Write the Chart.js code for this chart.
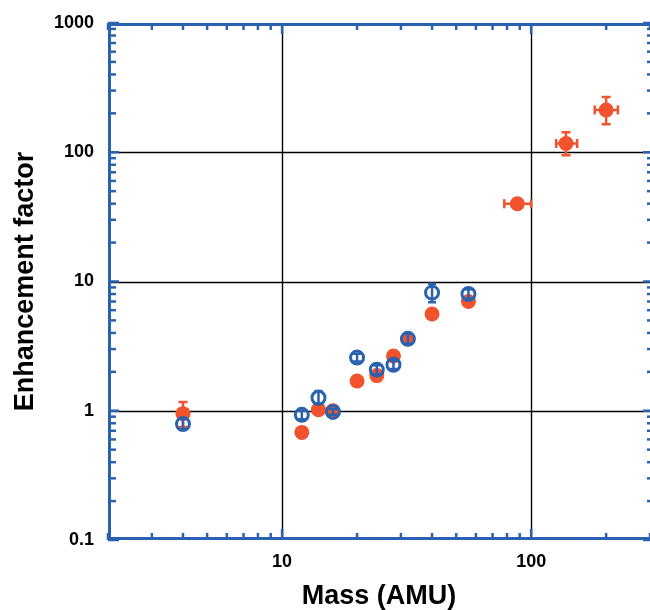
<!DOCTYPE html>
<html>
<head>
<meta charset="utf-8">
<script src="https://cdn.jsdelivr.net/npm/chart.js@4"></script>
<style>
  body { margin: 0; background: #fff; }
  canvas { display: block; }
</style>
</head>
<body>
<canvas id="myChart" width="650" height="610"></canvas>
<script>
// orange filled points
const orangeMass = [4, 12, 14, 16, 20, 24, 28, 32, 40, 56, 88, 138, 200]
const orangeMassLow = [4, 12, 14, 16, 20, 24, 28, 32, 40, 56, 78, 126, 180]
const orangeMassHigh = [4, 12, 14, 16, 20, 24, 28, 32, 40, 56, 100, 153, 223]
const orangeFactor = [0.95, 0.68, 1.02, 1.0, 1.7, 1.87, 2.65, 3.6, 5.6, 7.0, 40, 117, 212]
const orangeFactorLow = [0.75, 0.65, 0.97, 0.96, 1.63, 1.8, 2.55, 3.45, 5.4, 6.7, 38.5, 95, 165]
const orangeFactorHigh = [1.17, 0.71, 1.07, 1.04, 1.77, 1.95, 2.75, 3.75, 5.8, 7.3, 41.5, 143, 267]

// blue open points
const blueMass = [4, 12, 14, 16, 20, 24, 28, 32, 40, 56]
const blueFactor = [0.79, 0.93, 1.26, 0.98, 2.58, 2.08, 2.27, 3.6, 8.2, 8.0]
const blueFactorLow = [0.72, 0.86, 1.13, 0.93, 2.4, 1.92, 2.1, 3.3, 6.9, 7.4]
const blueFactorHigh = [0.87, 1.0, 1.42, 1.03, 2.76, 2.25, 2.45, 3.95, 9.6, 8.7]

const xTickLabels = [10, 100]
const yTickLabels = [0.1, 1, 10, 100, 1000]
const xMinor = [2, 3, 4, 5, 6, 7, 8, 9, 20, 30, 40, 50, 60, 70, 80, 90, 200, 300]
const yMinor = [0.2, 0.3, 0.4, 0.5, 0.6, 0.7, 0.8, 0.9, 2, 3, 4, 5, 6, 7, 8, 9,
  20, 30, 40, 50, 60, 70, 80, 90, 200, 300, 400, 500, 600, 700, 800, 900]

const orange = '#f0532d'
const blue = '#2a62b0'
const fontName = "'Liberation Sans', Arial, sans-serif"

const errBars = [
  { x: blueMass, y: blueFactor, yLo: blueFactorLow, yHi: blueFactorHigh, color: blue, w: 2.5, cap: 4 },
  { x: orangeMass, y: orangeFactor, yLo: orangeFactorLow, yHi: orangeFactorHigh,
    xLo: orangeMassLow, xHi: orangeMassHigh, color: orange, w: 2.5, cap: 4.5 }
]

const framePlugin = {
  id: 'frame',
  beforeDatasetsDraw(chart) {
    const ctx = chart.ctx
    const a = chart.chartArea
    const sx = chart.scales.x
    const sy = chart.scales.y
    ctx.save()
    ctx.strokeStyle = '#000'
    ctx.lineWidth = 1.4
    xTickLabels.forEach(v => {
      const px = Math.round(sx.getPixelForValue(v)) + 0.5
      ctx.beginPath(); ctx.moveTo(px, a.top); ctx.lineTo(px, a.bottom); ctx.stroke()
    })
    ;[1, 10, 100].forEach(v => {
      const py = Math.round(sy.getPixelForValue(v)) + 0.5
      ctx.beginPath(); ctx.moveTo(a.left, py); ctx.lineTo(a.right, py); ctx.stroke()
    })
    ctx.restore()
  },
  afterDatasetDraw(chart, args) {
    const e = errBars[args.index]
    const ctx = chart.ctx
    const sx = chart.scales.x
    const sy = chart.scales.y
    ctx.save()
    ctx.strokeStyle = e.color
    ctx.lineWidth = e.w
    e.x.forEach((xv, i) => {
      const px = sx.getPixelForValue(xv)
      const py = sy.getPixelForValue(e.y[i])
      const lo = sy.getPixelForValue(e.yLo[i])
      const hi = sy.getPixelForValue(e.yHi[i])
      ctx.beginPath()
      ctx.moveTo(px, lo); ctx.lineTo(px, hi)
      ctx.moveTo(px - e.cap, lo); ctx.lineTo(px + e.cap, lo)
      ctx.moveTo(px - e.cap, hi); ctx.lineTo(px + e.cap, hi)
      if (e.xLo && e.xLo[i] != xv) {
        const l = sx.getPixelForValue(e.xLo[i])
        const r = sx.getPixelForValue(e.xHi[i])
        ctx.moveTo(l, py); ctx.lineTo(r, py)
        ctx.moveTo(l, py - e.cap); ctx.lineTo(l, py + e.cap)
        ctx.moveTo(r, py - e.cap); ctx.lineTo(r, py + e.cap)
      }
      ctx.stroke()
    })
    ctx.restore()
  },
  afterDraw(chart) {
    const ctx = chart.ctx
    const a = chart.chartArea
    const sx = chart.scales.x
    const sy = chart.scales.y
    ctx.save()
    ctx.strokeStyle = blue
    ctx.lineWidth = 3
    ctx.beginPath()
    ctx.moveTo(a.right, a.top + 1.5); ctx.lineTo(a.left + 1.5, a.top + 1.5)
    ctx.lineTo(a.left + 1.5, a.bottom - 1.5); ctx.lineTo(a.right, a.bottom - 1.5)
    ctx.stroke()
    ctx.lineWidth = 2.5
    const tick = (x1, y1, x2, y2) => { ctx.beginPath(); ctx.moveTo(x1, y1); ctx.lineTo(x2, y2); ctx.stroke() }
    xMinor.forEach(v => {
      const px = sx.getPixelForValue(v)
      tick(px, a.bottom, px, a.bottom - 7)
      tick(px, a.top, px, a.top + 7)
    })
    xTickLabels.forEach(v => {
      const px = sx.getPixelForValue(v)
      tick(px, a.bottom, px, a.bottom - 11)
      tick(px, a.top, px, a.top + 11)
    })
    yMinor.forEach(v => {
      const py = sy.getPixelForValue(v)
      tick(a.left, py, a.left + 8, py)
      tick(a.right, py, a.right - 3, py)
    })
    yTickLabels.forEach(v => {
      const py = sy.getPixelForValue(v)
      tick(a.left, py, a.left + 11, py)
      tick(a.right, py, a.right - 7, py)
    })
    ctx.restore()
  }
}

const ctx1 = document.getElementById('myChart')
new Chart(ctx1, {
  type: 'scatter',
  data: {
    datasets: [{
      label: 'open',
      data: blueMass.map((m, i) => ({ x: m, y: blueFactor[i] })),
      pointRadius: 6.5,
      pointBorderWidth: 3,
      pointBorderColor: blue,
      pointBackgroundColor: 'rgba(0,0,0,0)',
      order: 0
    }, {
      label: 'filled',
      data: orangeMass.map((m, i) => ({ x: m, y: orangeFactor[i] })),
      pointRadius: 7.5,
      pointBorderWidth: 0,
      pointBackgroundColor: orange,
      order: 1
    }]
  },
  options: {
    responsive: false,
    animation: false,
    layout: { autoPadding: false, padding: { top: 23, right: 0, left: 0, bottom: 0 } },
    plugins: {
      legend: { display: false },
      tooltip: { enabled: false }
    },
    scales: {
      x: {
        type: 'logarithmic',
        min: 2,
        max: 300,
        grid: { display: false, drawTicks: false },
        border: { display: false },
        afterFit: s => { s.height = 70; s.paddingLeft = 0; s.paddingRight = 0 },
        afterBuildTicks: s => { s.ticks = xTickLabels.map(v => ({ value: v })) },
        ticks: {
          padding: 11,
          color: '#000',
          font: { family: fontName, size: 18, weight: 'bold' },
          maxRotation: 0,
          callback: v => String(v)
        },
        title: {
          display: true,
          text: 'Mass (AMU)',
          color: '#000',
          font: { family: fontName, size: 27, weight: 'bold', lineHeight: 1 },
          padding: { top: 0, bottom: 0 }
        }
      },
      y: {
        type: 'logarithmic',
        min: 0.1,
        max: 1000,
        grid: { display: false, drawTicks: false },
        border: { display: false },
        afterFit: s => { s.width = 108; s.paddingTop = 0; s.paddingBottom = 0 },
        afterBuildTicks: s => { s.ticks = yTickLabels.map(v => ({ value: v })) },
        ticks: {
          padding: 14,
          color: '#000',
          font: { family: fontName, size: 18, weight: 'bold' },
          callback: v => String(v)
        },
        title: {
          display: true,
          text: 'Enhancement factor',
          color: '#000',
          font: { family: fontName, size: 27, weight: 'bold' },
          padding: { top: 9, bottom: 0 }
        }
      }
    }
  },
  plugins: [framePlugin]
})
</script>
</body>
</html>
